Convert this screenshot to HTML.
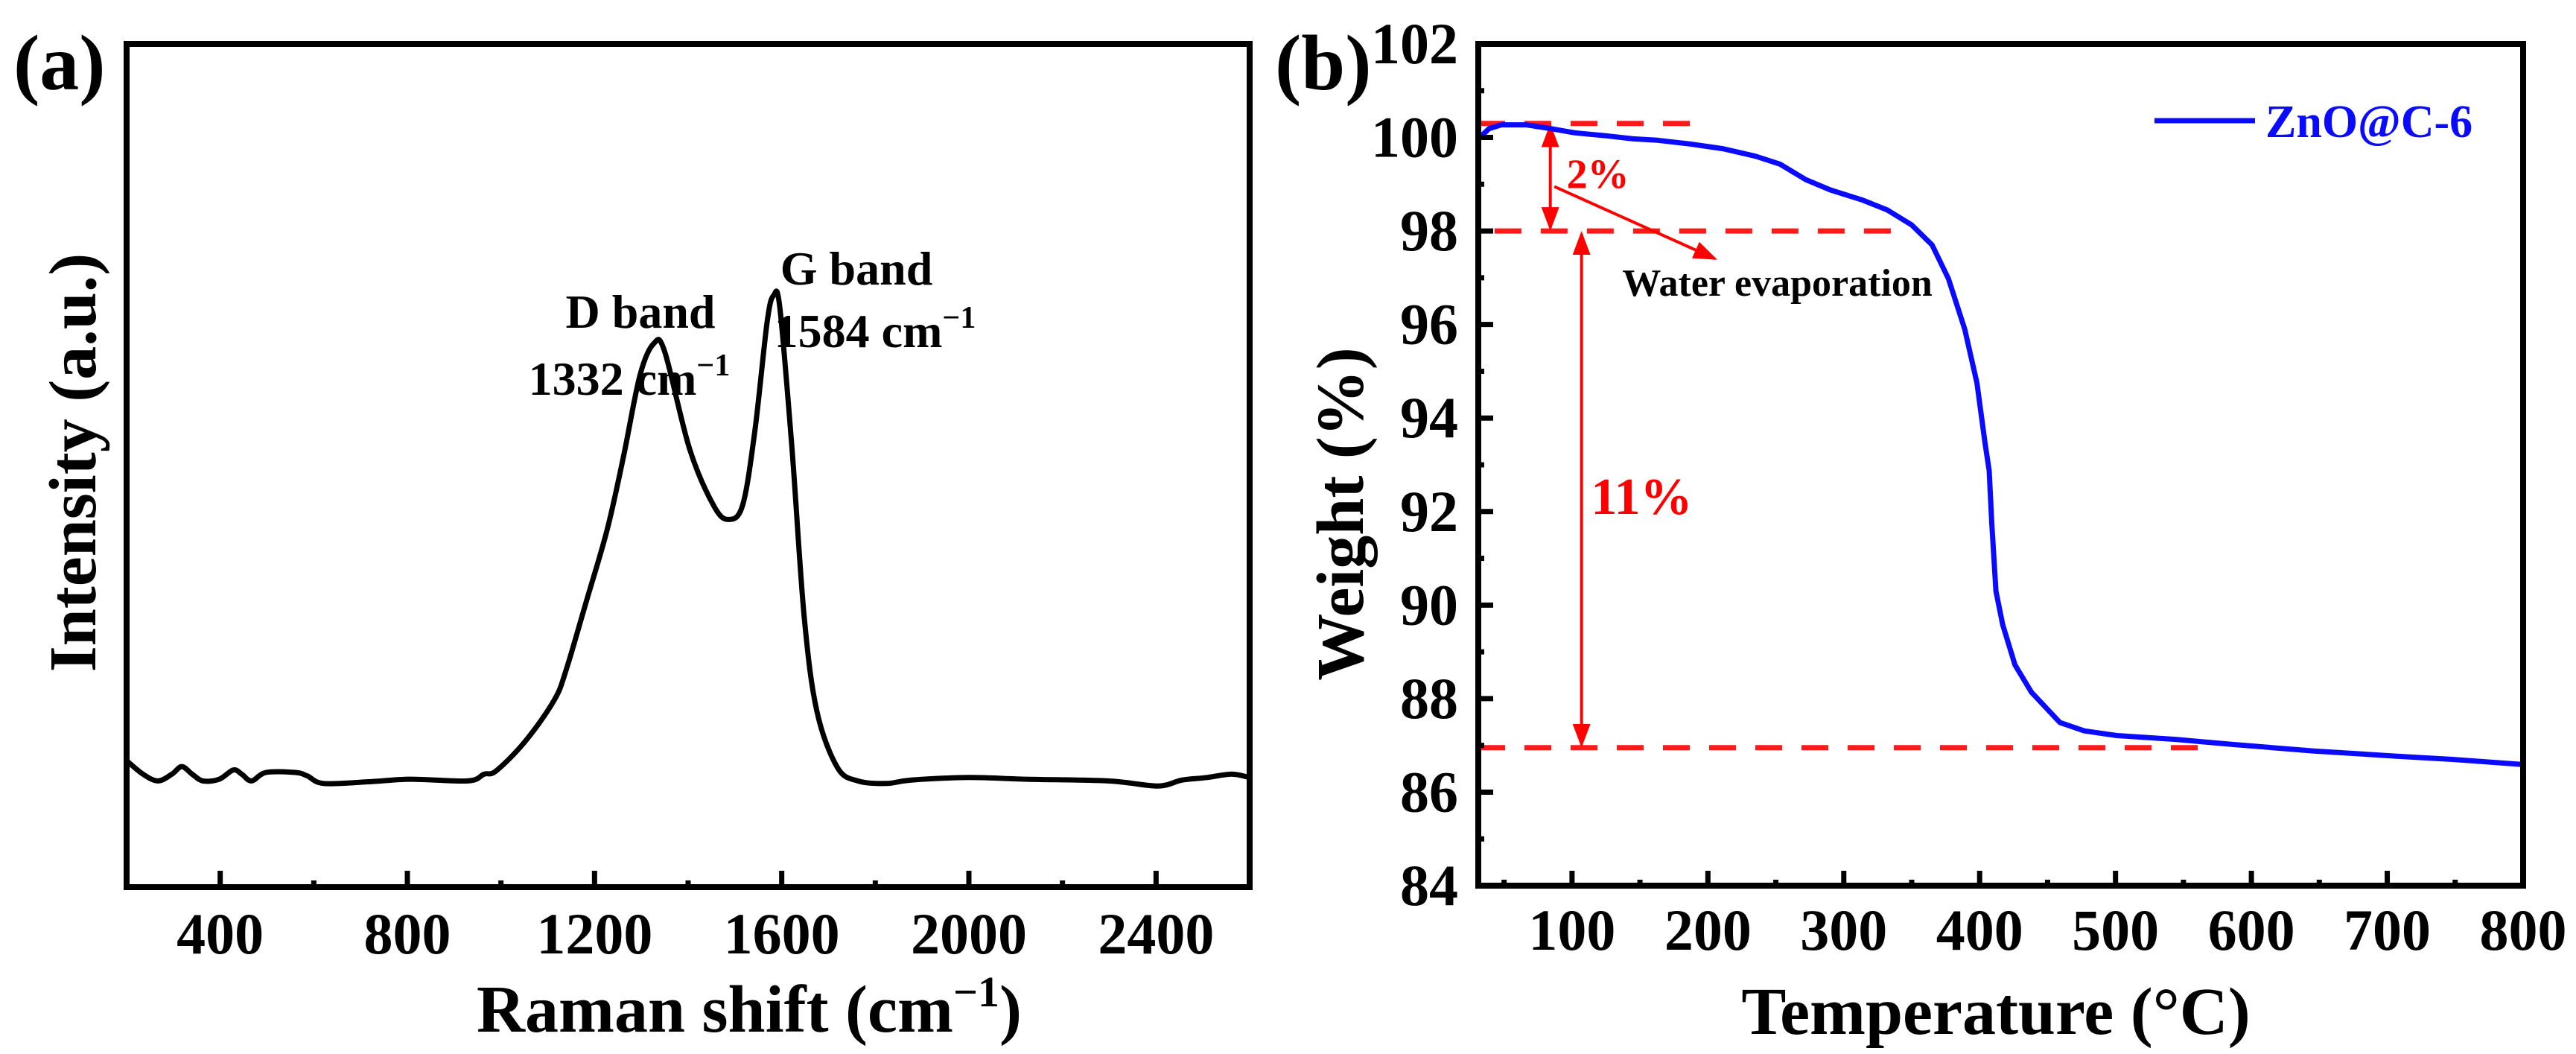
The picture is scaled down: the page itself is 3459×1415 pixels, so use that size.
<!DOCTYPE html>
<html><head><meta charset="utf-8"><style>
html,body{margin:0;padding:0;background:#fff;}
svg{display:block;font-family:"Liberation Serif",serif;font-weight:bold;}
</style></head><body>
<svg id="fig" width="3459" height="1415" viewBox="0 0 3459 1415" xmlns="http://www.w3.org/2000/svg">
<rect width="3459" height="1415" fill="#fff"/>
<g id="pa"></g>
<g id="pb"></g>
</svg>
<script>
const ramanShift=[200,235,267,297,318,340,363,398,428,446,467,498,560,586,621,718,806,929,964,990,1052,1113,1139,1183,1227,1262,1297,1327,1350,1403,1455,1487,1517,1543,1569,1583,1596,1622,1648,1675,1719,1763,1824,1877,2000,2123,2298,2403,2456,2509,2561,2600];
const ramanIntensity=[15.0,13.4,12.6,13.4,14.3,13.4,12.6,12.8,13.9,13.4,12.6,13.6,13.6,13.2,12.3,12.5,12.8,12.6,13.4,13.8,17.3,22.1,25.7,34.0,42.4,51.1,60.7,64.5,63.5,52.0,45.2,43.6,45.4,54.3,67.1,70.2,68.7,52.0,32.1,20.9,14.2,12.6,12.3,12.7,13.0,12.8,12.6,12.0,12.7,13.0,13.4,13.0];
const ramanTicks=[400,800,1200,1600,2000,2400];
const tgaTemp=[31,39,48,66,84,102,127,145,163,187,211,235,253,272,290,314,332,350,365,377,389,398,404,407,409,412,417,426,438,459,477,501,543,586,646,706,748,800];
const tgaWeight=[99.97,100.19,100.27,100.27,100.19,100.10,100.03,99.97,99.94,99.86,99.76,99.60,99.43,99.10,98.88,98.66,98.45,98.13,97.70,96.98,95.90,94.75,93.46,92.88,91.73,90.30,89.58,88.72,88.14,87.49,87.31,87.21,87.13,87.02,86.88,86.77,86.70,86.59];
const tgaXTicks=[100,200,300,400,500,600,700,800];
const tgaYTicks=[84,86,88,90,92,94,96,98,100,102];
const refLevels=[100.3,98,86.95];
const refStart=[31,43,31];
const refEnd=[190,347,561];

const NS="http://www.w3.org/2000/svg";
function mk(parent,tag,attrs,text){const e=document.createElementNS(NS,tag);for(const k in attrs)e.setAttribute(k,attrs[k]);if(text!==undefined)e.textContent=text;parent.appendChild(e);return e;}
function smooth(pts){let s='M'+pts[0][0].toFixed(1)+','+pts[0][1].toFixed(1);
 for(let i=0;i<pts.length-1;i++){const p0=pts[i-1]||pts[i],p1=pts[i],p2=pts[i+1],p3=pts[i+2]||p2;
  const c1=[p1[0]+(p2[0]-p0[0])/6,p1[1]+(p2[1]-p0[1])/6],c2=[p2[0]-(p3[0]-p1[0])/6,p2[1]-(p3[1]-p1[1])/6];
  s+=' C'+c1[0].toFixed(1)+','+c1[1].toFixed(1)+' '+c2[0].toFixed(1)+','+c2[1].toFixed(1)+' '+p2[0].toFixed(1)+','+p2[1].toFixed(1);}
 return s;}

// Panel A
const A={l:170,r:1678,t:59,b:1191,x0:200,x1:2600,y0:0,y1:100};
const ax=v=>A.l+(v-A.x0)/(A.x1-A.x0)*(A.r-A.l);
const ay=v=>A.b-(v-A.y0)/(A.y1-A.y0)*(A.b-A.t);
const pa=document.getElementById('pa');
let d=smooth(ramanShift.map((v,i)=>[ax(v),ay(ramanIntensity[i])]));
let e=mk(pa,'path',{d:d,fill:'none',stroke:'#000','stroke-width':7,'stroke-linejoin':'round'});


for(let v=400;v<=2400;v+=200){const maj=ramanTicks.includes(v);
 e=mk(pa,'line',{x1:ax(v),x2:ax(v),y1:A.b,y2:A.b-(maj?22:9),stroke:'#000','stroke-width':7});
 
 }
ramanTicks.forEach(v=>{e=mk(pa,'text',{x:ax(v),y:1280,'font-size':78,'text-anchor':'middle'},v);
 
 });
e=mk(pa,'rect',{x:A.l,y:A.t,width:A.r-A.l,height:A.b-A.t,fill:'none',stroke:'#000','stroke-width':8});


e=mk(pa,'text',{x:18,y:120,'font-size':106},'(a)');


e=mk(pa,'text',{x:1006,y:1385,'font-size':90,'text-anchor':'middle'});
e.innerHTML='Raman shift (cm<tspan font-size="58" dy="-34">−1</tspan><tspan dy="34">)</tspan>';


e=mk(pa,'text',{x:0,y:0,'font-size':90,'text-anchor':'middle',transform:'translate(128,621) rotate(-90)'},'Intensity (a.u.)');


e=mk(pa,'text',{x:860,y:440,'font-size':64,'text-anchor':'middle'},'D band');


e=mk(pa,'text',{x:845,y:530,'font-size':64,'text-anchor':'middle'});
e.innerHTML='1332 cm<tspan font-size="42" dy="-26">−1</tspan>';


e=mk(pa,'text',{x:1150,y:382,'font-size':64,'text-anchor':'middle'},'G band');


e=mk(pa,'text',{x:1175,y:466,'font-size':64,'text-anchor':'middle'});
e.innerHTML='1584 cm<tspan font-size="42" dy="-26">−1</tspan>';



// Panel B
const B={l:1985,r:3388,t:59,b:1189,x0:31,x1:800,y0:84,y1:102};
const bx=v=>B.l+(v-B.x0)/(B.x1-B.x0)*(B.r-B.l);
const by=v=>B.b-(v-B.y0)/(B.y1-B.y0)*(B.b-B.t);
const pb=document.getElementById('pb');
const defs=mk(pb,'defs',{});
defs.innerHTML='<marker id="ah" markerWidth="8" markerHeight="6" refX="7" refY="3" orient="auto-start-reverse" markerUnits="strokeWidth"><path d="M0,0 L8,3 L0,6 Z" fill="#ff0000"/></marker>';
refLevels.forEach((v,i)=>{e=mk(pb,'line',{x1:bx(refStart[i]),x2:bx(refEnd[i]),y1:by(v),y2:by(v),stroke:'#ff1a1a','stroke-width':7,'stroke-dasharray':'36,26'});
 
 });
e=mk(pb,'line',{x1:bx(84),x2:bx(84),y1:by(100.3)+4,y2:by(98)-4,stroke:'#ff0000','stroke-width':4,'marker-start':'url(#ah)','marker-end':'url(#ah)'});


e=mk(pb,'line',{x1:bx(107),x2:bx(107),y1:by(98)+4,y2:by(86.95)-4,stroke:'#ff0000','stroke-width':4,'marker-start':'url(#ah)','marker-end':'url(#ah)'});


e=mk(pb,'line',{x1:bx(87),y1:by(98.95),x2:bx(205),y2:by(97.41),stroke:'#ff0000','stroke-width':4,'marker-end':'url(#ah)'});


e=mk(pb,'text',{x:bx(96),y:by(99.24)+20,'font-size':56,fill:'#ff0000'},'2%');


e=mk(pb,'text',{x:bx(114),y:by(92.35)+25,'font-size':70,fill:'#ff0000'},'11%');


e=mk(pb,'text',{x:bx(137),y:by(96.9)+18,'font-size':52,fill:'#000'},'Water evaporation');


d=tgaTemp.map((v,i)=>(i?'L':'M')+bx(v).toFixed(1)+','+by(tgaWeight[i]).toFixed(1)).join(' ');
e=mk(pb,'path',{d:d,fill:'none',stroke:'#0a0aff','stroke-width':7,'stroke-linejoin':'round'});


for(let v=50;v<=750;v+=50){const maj=tgaXTicks.includes(v);
 e=mk(pb,'line',{x1:bx(v),x2:bx(v),y1:B.b,y2:B.b-(maj?20:8),stroke:'#000','stroke-width':7});
 
 }
for(let v=85;v<=101;v+=1){const maj=tgaYTicks.includes(v);
 e=mk(pb,'line',{x1:B.l,x2:B.l+(maj?20:8),y1:by(v),y2:by(v),stroke:'#000','stroke-width':7});
 
 }
tgaXTicks.forEach(v=>{e=mk(pb,'text',{x:bx(v),y:1275,'font-size':78,'text-anchor':'middle'},v);
 
 });
tgaYTicks.forEach(v=>{e=mk(pb,'text',{x:1958,y:by(v)+26,'font-size':78,'text-anchor':'end'},v);
 
 });
e=mk(pb,'rect',{x:B.l,y:B.t,width:B.r-B.l,height:B.b-B.t,fill:'none',stroke:'#000','stroke-width':8});


e=mk(pb,'text',{x:1712,y:120,'font-size':106},'(b)');


e=mk(pb,'text',{x:2680,y:1388,'font-size':90,'text-anchor':'middle'},'Temperature (°C)');


e=mk(pb,'text',{x:0,y:0,'font-size':90,'text-anchor':'middle',transform:'translate(1830,690) rotate(-90)'},'Weight (%)');


e=mk(pb,'line',{x1:2893,x2:3028,y1:by(100.36),y2:by(100.36),stroke:'#0a0aff','stroke-width':7});


e=mk(pb,'text',{x:3042,y:by(100.36)+22,'font-size':62,fill:'#0a0aff'},'ZnO@C-6');


</script>
</body></html>
